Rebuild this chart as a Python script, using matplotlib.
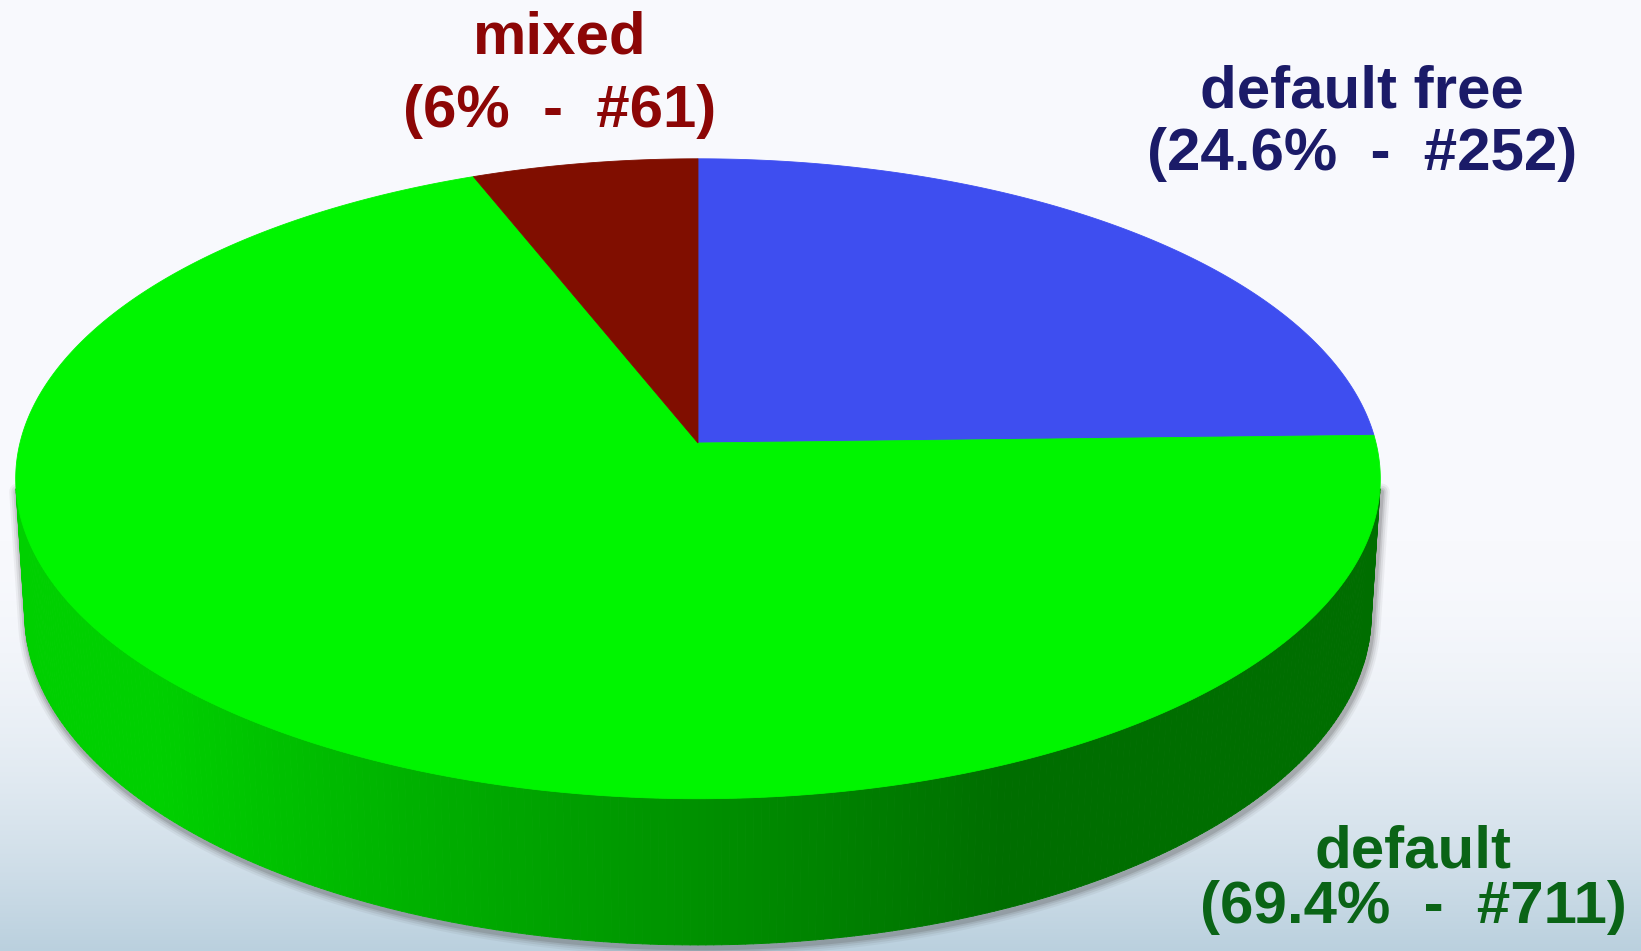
import numpy as np
import matplotlib
matplotlib.use("Agg")
import matplotlib.pyplot as plt
from matplotlib.patches import Polygon
from matplotlib.collections import PolyCollection
from matplotlib.colors import to_rgb

# ---- data ----
categories = ["default free", "default", "mixed"]
counts = [252, 711, 61]
percent_labels = ["24.6%", "69.4%", "6%"]
slice_colors = ["#3e4ef0", "#00f500", "#800e00"]
label_colors = ["#1b1b68", "#0a6416", "#8c0606"]

# ---- layout (pixels) ----
W, HPX = 1641, 951
label_pos = [(1362, 107, 170), (1413, 867, 923), (560, 54, 127)]  # x, baseline1, baseline2

fig = plt.figure(figsize=(W / 100, HPX / 100), dpi=100)
ax = fig.add_axes([0, 0, 1, 1])
ax.set_xlim(0, W)
ax.set_ylim(HPX, 0)
ax.axis("off")

# background gradient
yy = np.arange(HPX)[:, None] * np.ones((1, W))
xx = np.ones((HPX, 1)) * np.arange(W)[None, :]
topc = np.array([248, 249, 253]) / 255
botc = np.array([186, 208, 222]) / 255
t = np.clip((yy - 540) / 411, 0, 1) ** 1.8
img = topc * (1 - t[..., None]) + botc * t[..., None]
ax.imshow(img, extent=[0, W, HPX, 0], zorder=0, aspect="auto")

# ---- perspective projection of a 3D disk ----
CX, CY = 698, 443
K = 5370.0
DIST = 7.92
SIN_E, COS_E = 0.466, 0.885
THICK = 0.2277


def project(theta_deg, h):
    th = np.radians(theta_deg)
    x = np.cos(th)
    z = np.sin(th)
    depth = DIST - h * SIN_E - z * COS_E
    sx = x / depth
    sy = (h * COS_E - z * SIN_E) / depth
    return CX + K * sx, CY - K * sy


fracs = np.array(counts, dtype=float) / np.sum(counts)
edges = -90 + 360 * np.concatenate([[0], np.cumsum(fracs)])

th0 = np.degrees(np.arcsin(1.0 / (DIST * COS_E)))
vis_a, vis_b = th0, 180 - th0

# shadow
sh_th = np.linspace(vis_a, vis_b, 300)
bx, by = project(sh_th, -THICK)
txa, tya = project(vis_a, 0)
txb, tyb = project(vis_b, 0)
sx_ = np.concatenate([[txa], bx, [txb]])
sy_ = np.concatenate([[tya], by, [tyb]])
for lw, al in [(12, 0.07), (9, 0.10), (6, 0.14), (3.5, 0.2)]:
    ax.plot(sx_ + 1.5, sy_ + 3, color="#555555", lw=lw, alpha=al,
            solid_capstyle="round", solid_joinstyle="round", zorder=1)

# side strips
polys, cols = [], []
for i in range(len(counts)):
    a, b = edges[i], edges[i + 1]
    for off in (0, 360, -360):
        lo = max(a + off, vis_a)
        hi = min(b + off, vis_b)
        if hi <= lo:
            continue
        n = max(2, int((hi - lo) / 0.6))
        ts = np.linspace(lo, hi, n + 1)
        base = np.array(to_rgb(slice_colors[i]))
        for j in range(n):
            t1, t2 = ts[j], ts[j + 1]
            x1, y1 = project(t1, 0)
            x2, y2 = project(t2, 0)
            x3, y3 = project(t2, -THICK)
            x4, y4 = project(t1, -THICK)
            polys.append([(x1, y1), (x2, y2), (x3, y3), (x4, y4)])
            tm = np.radians(0.5 * (t1 + t2))
            inten = np.clip(0.59 - 0.35 * np.cos(tm), 0.45, 0.85)
            cols.append(np.clip(base * inten, 0, 1))
pc = PolyCollection(polys, facecolors=cols, edgecolors=cols, linewidths=0.7, zorder=2)
ax.add_collection(pc)

# top face wedges
for i in range(len(counts)):
    a, b = edges[i], edges[i + 1]
    ts = np.linspace(a, b, max(3, int((b - a) * 2)))
    px, py = project(ts, 0)
    verts = [(CX, CY)] + list(zip(px, py))
    ax.add_patch(Polygon(verts, closed=True, facecolor=slice_colors[i],
                         edgecolor=slice_colors[i], lw=0.6, zorder=3))

# labels
for i, cat in enumerate(categories):
    x, b1, b2 = label_pos[i]
    ax.text(x, b1, cat, ha="center", va="baseline", fontsize=43.2,
            fontweight="bold", family=["Liberation Sans", "DejaVu Sans"],
            color=label_colors[i], zorder=5)
    ax.text(x, b2, f"({percent_labels[i]}  -  #{counts[i]})", ha="center",
            va="baseline", fontsize=43.2, fontweight="bold",
            family=["Liberation Sans", "DejaVu Sans"],
            color=label_colors[i], zorder=5)

fig.savefig("out.png", dpi=100)
